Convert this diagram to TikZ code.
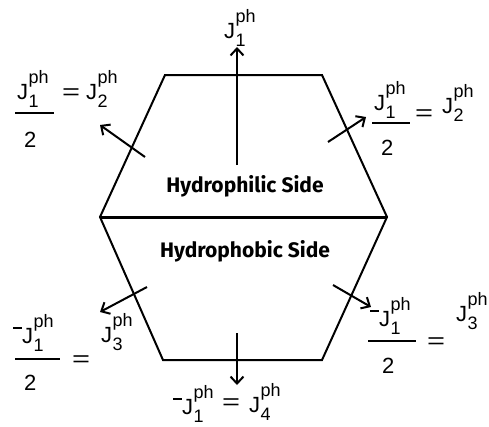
\documentclass[tikz,border=0pt]{standalone}
\usepackage{fontspec}
\usepackage{graphicx}
\setmainfont{Liberation Sans}
\newfontfamily\sidefont{Fira Sans}
\usetikzlibrary{arrows.meta}
\newcommand\scr{\fontsize{18}{18}\selectfont}
\newcommand\Jp[1]{J\rlap{\raisebox{-0.38em}{\scr\kern0.5pt #1}}\raisebox{0.72em}{\scr\kern0.3pt ph}}
\newcommand\mn{\rule[0.64em]{8.5pt}{2pt}\kern0.5pt}
\newcommand\eq{\scalebox{1.4}[1]{=}}
\tikzset{
  hexline/.style={line width=2pt, line join=miter},
  midline/.style={line width=3pt},
  flux/.style={line width=2pt, -{Straight Barb[length=7pt,width=13pt,line width=2pt]}},
  lab/.style={inner sep=0pt, anchor=base west, font=\fontsize{22}{24}\selectfont},
  side/.style={inner sep=0pt, font=\sidefont\bfseries\fontsize{21}{24}\selectfont},
  fbar/.style={line width=2pt}
}
\begin{document}
\begin{tikzpicture}[x=1pt,y=-1pt]
\useasboundingbox (0,0) rectangle (489,426);
% hexagon
\coordinate (tl) at (165,75);
\coordinate (tr) at (322,75);
\coordinate (r) at (387,217);
\coordinate (br) at (322,360);
\coordinate (bl) at (163,360);
\coordinate (l) at (100,217);
\draw[hexline] (l) -- (tl) -- (tr) -- (r) -- (br) -- (bl) -- cycle;
\draw[midline] (l) -- (r);
\node[side] (phil) at (245,186) {Hydrophilic Side};
\node[side] (phob) at (245,251) {Hydrophobic Side};
% arrows
\coordinate (a1s) at (237,165); \coordinate (a1e) at (237,47);
\coordinate (a2s) at (145,157); \coordinate (a2e) at (100,125);
\coordinate (a3s) at (328,142); \coordinate (a3e) at (366,117);
\coordinate (a4s) at (147,287); \coordinate (a4e) at (100,312);
\coordinate (a5s) at (333,285); \coordinate (a5e) at (371,307);
\coordinate (a6s) at (237,333); \coordinate (a6e) at (237,385);
\draw[flux] (a1s) -- (a1e);
\draw[flux] (a2s) -- (a2e);
\draw[flux] (a3s) -- (a3e);
\draw[flux] (a4s) -- (a4e);
\draw[flux] (a5s) -- (a5e);
\draw[flux] (a6s) -- (a6e);
% top label
\node[lab] (ltop) at (224,38) {\Jp{1}};
% top-left label
\node[lab] (tlnum) at (17,99) {\Jp{1}};
\coordinate (tlb1) at (15,113); \coordinate (tlb2) at (54,113);
\draw[fbar] (tlb1) -- (tlb2);
\node[lab] (tlden) at (24,147) {2};
\node[lab] (tleq) at (62,99) {\eq};
\node[lab] (tlj) at (86,99) {\Jp{2}};
% top-right label
\node[lab] (trnum) at (374,110) {\Jp{1}};
\coordinate (trb1) at (372,123); \coordinate (trb2) at (410,123);
\draw[fbar] (trb1) -- (trb2);
\node[lab] (trden) at (381,155) {2};
\node[lab] (treq) at (415,120) {\eq};
\node[lab] (trj) at (442,113) {\Jp{2}};
% bottom-left label
\node[lab] (blnum) at (13,343) {\mn\Jp{1}};
\coordinate (blb1) at (15,359); \coordinate (blb2) at (60,359);
\draw[fbar] (blb1) -- (blb2);
\node[lab] (blden) at (24,390) {2};
\node[lab] (bleq) at (72,366) {\eq};
\node[lab] (blj) at (101,342) {\Jp{3}};
% bottom-right label
\node[lab] (brnum) at (370,326) {\mn\Jp{1}};
\coordinate (brb1) at (368,341); \coordinate (brb2) at (416,341);
\draw[fbar] (brb1) -- (brb2);
\node[lab] (brden) at (382,373) {2};
\node[lab] (breq) at (427,348) {\eq};
\node[lab] (brj) at (456,321) {\Jp{3}};
% bottom label
\node[lab] (bm1) at (173,414) {\mn\Jp{1}};
\node[lab] (bmeq) at (222,409) {\eq};
\node[lab] (bmj) at (249,412) {\Jp{4}};
\end{tikzpicture}
\end{document}
